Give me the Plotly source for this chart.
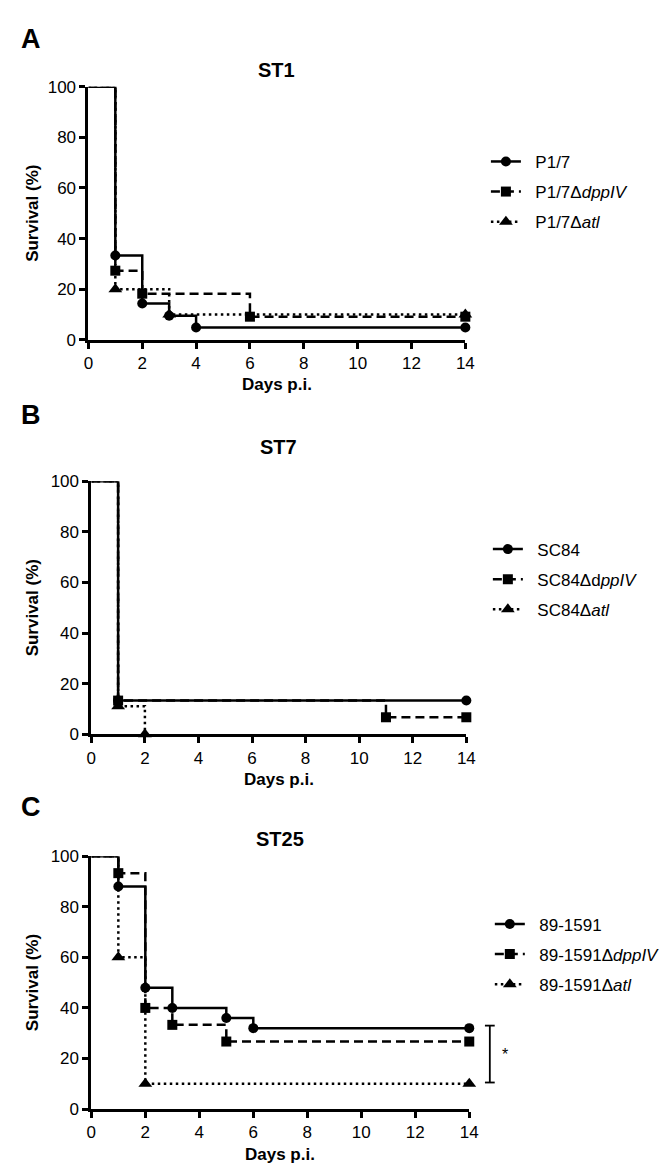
import plotly.graph_objects as go

W, H = 670, 1175
FONT = "Liberation Sans, Arial, sans-serif"

# ---------------- data ----------------
# Panel A: ST1
a_p17_days = [0, 1, 2, 3, 4, 14]
a_p17_surv = [100, 33.3, 14.3, 9.5, 4.8, 4.8]
a_dpp_days = [0, 1, 2, 6, 14]
a_dpp_surv = [100, 27.3, 18.2, 9.1, 9.1]
a_atl_days = [0, 1, 3, 14]
a_atl_surv = [100, 20, 10, 10]
a_names = ["P1/7", "P1/7\u0394<i>dppIV</i>", "P1/7\u0394<i>atl</i>"]

# Panel B: ST7
b_sc_days = [0, 1, 14]
b_sc_surv = [100, 13.3, 13.3]
b_dpp_days = [0, 1, 11, 14]
b_dpp_surv = [100, 13.3, 6.7, 6.7]
b_atl_days = [0, 1, 2]
b_atl_surv = [100, 11.1, 0]
b_names = ["SC84", "SC84\u0394d<i>ppIV</i>", "SC84\u0394<i>atl</i>"]

# Panel C: ST25
c_wt_days = [0, 1, 2, 3, 5, 6, 14]
c_wt_surv = [100, 88, 48, 40, 36, 32, 32]
c_dpp_days = [0, 1, 2, 3, 5, 14]
c_dpp_surv = [100, 93.3, 40, 33.3, 26.7, 26.7]
c_atl_days = [0, 1, 2, 14]
c_atl_surv = [100, 60, 10, 10]
c_names = ["89-1591", "89-1591\u0394<i>dppIV</i>", "89-1591\u0394<i>atl</i>"]

x_ticks = [0, 2, 4, 6, 8, 10, 12, 14]
y_ticks = [0, 20, 40, 60, 80, 100]
titles = ["ST1", "ST7", "ST25"]
letters = ["A", "B", "C"]

# ---------------- styles ----------------
LW = 2.5
styles = [
    dict(line=dict(color="black", width=LW), symbol="circle", size=10),
    dict(line=dict(color="black", width=LW, dash="9px,5px"), symbol="square", size=10),
    dict(line=dict(color="black", width=LW, dash="2.5px,3.5px"), symbol="triangle-up", size=12),
]

# pixel geometry of panels: (x_left, x_right, y_top, y_bottom)
panels = [
    (77, 462, 71, 328),
    (80, 463, 472, 729),
    (80, 466, 853, 1110),
]
title_y = [54, 437, 836]
letter_y = [22, 405, 803]
legend_pos = [(483, 129), (485, 523), (487, 904)]

panel_data = [
    [(a_p17_days, a_p17_surv), (a_dpp_days, a_dpp_surv), (a_atl_days, a_atl_surv)],
    [(b_sc_days, b_sc_surv), (b_dpp_days, b_dpp_surv), (b_atl_days, b_atl_surv)],
    [(c_wt_days, c_wt_surv), (c_dpp_days, c_dpp_surv), (c_atl_days, c_atl_surv)],
]
panel_names = [a_names, b_names, c_names]

fig = go.Figure()
annotations = []
shapes = []

for p in range(3):
    xa = "x" if p == 0 else f"x{p+1}"
    ya = "y" if p == 0 else f"y{p+1}"
    lg = "legend" if p == 0 else f"legend{p+1}"
    for s in range(3):
        days, surv = panel_data[p][s]
        st = styles[s]
        # step line
        fig.add_trace(go.Scatter(
            x=days, y=surv, mode="lines", line=dict(shape="hv", **st["line"]),
            xaxis=xa, yaxis=ya, showlegend=False, cliponaxis=False, hoverinfo="skip"))
        # event / censor markers
        fig.add_trace(go.Scatter(
            x=days[1:], y=surv[1:], mode="markers",
            marker=dict(symbol=st["symbol"], size=st["size"], color="black", line=dict(width=0)),
            xaxis=xa, yaxis=ya, showlegend=False, cliponaxis=False))
    # legend entries
    for s in range(3):
        st = styles[s]
        fig.add_trace(go.Scatter(
            x=[None], y=[None], mode="lines+markers", name="\u00a0\u00a0" + panel_names[p][s],
            line=st["line"],
            marker=dict(symbol=st["symbol"], size=st["size"], color="black", line=dict(width=0)),
            xaxis=xa, yaxis=ya, legend=lg, legendgroup=f"g{p}{s}", showlegend=True))

    xl, xr, yt, yb = panels[p]
    axis_common = dict(showgrid=False, zeroline=False, showline=True, linecolor="black",
                       linewidth=2.8, ticks="outside", ticklen=6, tickwidth=2.8,
                       tickcolor="black", tickfont=dict(family=FONT, size=17, color="black"))
    fig.layout[("xaxis" if p == 0 else f"xaxis{p+1}")] = dict(
        domain=[xl / W, xr / W], range=[0, 14], tickvals=x_ticks, anchor=ya, **axis_common)
    fig.layout[("yaxis" if p == 0 else f"yaxis{p+1}")] = dict(
        domain=[1 - yb / H, 1 - yt / H], range=[0, 100], tickvals=y_ticks, anchor=xa, **axis_common)
    lx, ly = legend_pos[p]
    fig.layout[lg] = dict(x=lx / W, y=1 - ly / H, xanchor="left", yanchor="top",
                          font=dict(family=FONT, size=17, color="black"),
                          tracegroupgap=5, bgcolor="rgba(0,0,0,0)", itemwidth=30,
                          traceorder="grouped")

    cx = (xl + xr) / 2
    # title
    annotations.append(dict(text=f"<b>{titles[p]}</b>", x=cx / W, y=1 - title_y[p] / H,
                            xref="paper", yref="paper", showarrow=False,
                            font=dict(family=FONT, size=20, color="black"),
                            xanchor="center", yanchor="middle"))
    # panel letter
    annotations.append(dict(text=f"<b>{letters[p]}</b>", x=6 / W, y=1 - letter_y[p] / H,
                            xref="paper", yref="paper", showarrow=False,
                            font=dict(family=FONT, size=27, color="black"),
                            xanchor="left", yanchor="middle"))
    # axis titles
    annotations.append(dict(text="<b>Days p.i.</b>", x=cx / W, y=1 - (yb + 46) / H,
                            xref="paper", yref="paper", showarrow=False,
                            font=dict(family=FONT, size=17, color="black"),
                            xanchor="center", yanchor="middle"))
    annotations.append(dict(text="<b>Survival (%)</b>", x=20 / W, y=1 - ((yt + yb) / 2) / H,
                            xref="paper", yref="paper", showarrow=False, textangle=-90,
                            font=dict(family=FONT, size=17, color="black"),
                            xanchor="center", yanchor="middle"))

# significance bracket in panel C (between 89-1591 and 89-1591Δatl at day 14)
br_top, br_bot = c_wt_surv[-1] + 1, c_atl_surv[-1] + 0.5
bx = 487 / W
cap = 5 / W
shapes.append(dict(type="line", xref="paper", yref="y3", x0=bx, x1=bx, y0=br_bot, y1=br_top,
                   line=dict(color="black", width=1.8)))
for yy in (br_bot, br_top):
    shapes.append(dict(type="line", xref="paper", yref="y3", x0=bx - cap, x1=bx + cap, y0=yy, y1=yy,
                       line=dict(color="black", width=1.8)))
annotations.append(dict(text="*", x=502 / W, y=(br_top + br_bot) / 2, xref="paper", yref="y3",
                        showarrow=False, font=dict(family=FONT, size=16, color="black"),
                        xanchor="center", yanchor="middle"))

fig.update_layout(width=W, height=H, margin=dict(l=0, r=0, t=0, b=0),
                  paper_bgcolor="white", plot_bgcolor="white",
                  annotations=annotations, shapes=shapes, showlegend=True)

fig.write_html("out.html")
